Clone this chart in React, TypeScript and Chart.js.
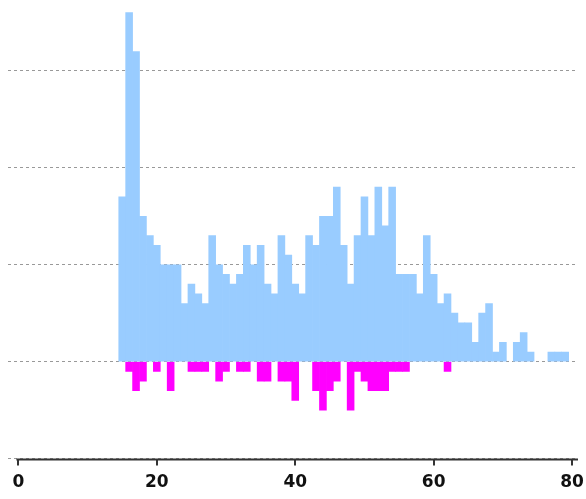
import React, { useEffect, useRef } from "react";
import { Chart, registerables } from "chart.js";

Chart.register(...registerables);

// Bin centres (x values)
const bins: number[] = [
  15, 16, 17, 18, 19, 20, 21, 22, 23, 24,
  25, 26, 27, 28, 29, 30, 31, 32, 33, 34,
  35, 36, 37, 38, 39, 40, 41, 42, 43, 44,
  45, 46, 47, 48, 49, 50, 51, 52, 53, 54,
  55, 56, 57, 58, 59, 60, 61, 62, 63, 64,
  65, 66, 67, 68, 69, 70, 71, 72, 73, 74,
  75, 76, 77, 78, 79,
];

// Positive counts (light blue)
const upperCounts: number[] = [
  17, 36, 32, 15, 13, 12, 10, 10, 10, 6,
  8, 7, 6, 13, 10, 9, 8, 9, 12, 10,
  12, 8, 7, 13, 11, 8, 7, 13, 12, 15,
  15, 18, 12, 8, 13, 17, 13, 18, 14, 18,
  9, 9, 9, 7, 13, 9, 6, 7, 5, 4,
  4, 2, 5, 6, 1, 2, 0, 2, 3, 1,
  0, 0, 1, 1, 1,
];

// Counts drawn below zero (magenta)
const lowerCounts: number[] = [
  0, 1, 3, 2, 0, 1, 0, 3, 0, 0,
  1, 1, 1, 0, 2, 1, 0, 1, 1, 0,
  2, 2, 0, 2, 2, 4, 0, 0, 3, 5,
  3, 2, 0, 5, 1, 2, 3, 3, 3, 1,
  1, 1, 0, 0, 0, 0, 0, 1, 0, 0,
  0, 0, 0, 0, 0, 0, 0, 0, 0, 0,
  0, 0, 0, 0, 0,
];

const xTickValues: number[] = [0, 20, 40, 60, 80];
const yGridValues: number[] = [-10, 0, 10, 20, 30];

const axisLinePlugin = {
  id: "axisLine",
  afterDatasetsDraw(chart: any) {
    const { ctx, chartArea, scales } = chart;
    const xs = scales.x;
    const x0 = xs.getPixelForValue(xTickValues[0]) - 2;
    ctx.save();
    ctx.strokeStyle = "#333333";
    ctx.lineWidth = 2;
    ctx.beginPath();
    ctx.moveTo(x0, chartArea.bottom + 1);
    ctx.lineTo(chartArea.right, chartArea.bottom + 1);
    ctx.stroke();
    ctx.restore();
  },
};

export default function App() {
  const ref = useRef<HTMLCanvasElement | null>(null);

  useEffect(() => {
    if (!ref.current) return;
    const chart = new Chart(ref.current, {
      type: "bar",
      data: {
        datasets: [
          {
            label: "upper",
            data: bins.map((b, i) => ({ x: b, y: upperCounts[i] === 0 ? null : upperCounts[i] })),
            backgroundColor: "rgb(153,204,255)",
            borderWidth: 0,
            barPercentage: 1,
            categoryPercentage: 1,
          },
          {
            label: "lower",
            data: bins.map((b, i) => ({ x: b, y: lowerCounts[i] === 0 ? null : -lowerCounts[i] })),
            backgroundColor: "#ff00ff",
            borderWidth: 0,
            barPercentage: 1,
            categoryPercentage: 1,
          },
        ],
      },
      options: {
        animation: false,
        responsive: false,
        layout: { padding: { left: 8, right: 8, top: 3, bottom: -1 } },
        plugins: {
          legend: { display: false },
          tooltip: { enabled: false },
        },
        scales: {
          x: {
            type: "linear",
            stacked: true,
            offset: false,
            min: -1.5,
            max: 80.85,
            afterBuildTicks: (scale: any) => {
              scale.ticks = xTickValues.map((v) => ({ value: v }));
            },
            afterFit: (scale: any) => {
              scale.paddingLeft = 0;
              scale.paddingRight = 0;
            },
            grid: {
              offset: false,
              drawOnChartArea: false,
              drawTicks: true,
              tickLength: 7,
              color: "#333333",
              lineWidth: 2,
            },
            border: { display: false },
            ticks: {
              padding: 7,
              maxRotation: 0,
              autoSkip: false,
              color: "#111111",
              font: { family: "'DejaVu Sans', Verdana, sans-serif", size: 17, weight: "bold" },
            },
          },
          y: {
            stacked: true,
            min: -10,
            max: 37,
            afterBuildTicks: (scale: any) => {
              scale.ticks = yGridValues.map((v) => ({ value: v }));
            },
            ticks: { display: false },
            grid: {
              drawTicks: false,
              color: "#999999",
              lineWidth: 1,
            },
            border: { display: false, dash: [3, 3] },
          },
        },
      },
      plugins: [axisLinePlugin],
    });
    return () => chart.destroy();
  }, []);

  return (
    <div style={{ position: "fixed", left: 0, top: 0, width: 586, height: 499, background: "#fff" }}>
      <canvas ref={ref} width={586} height={499} style={{ display: "block" }} />
    </div>
  );
}
